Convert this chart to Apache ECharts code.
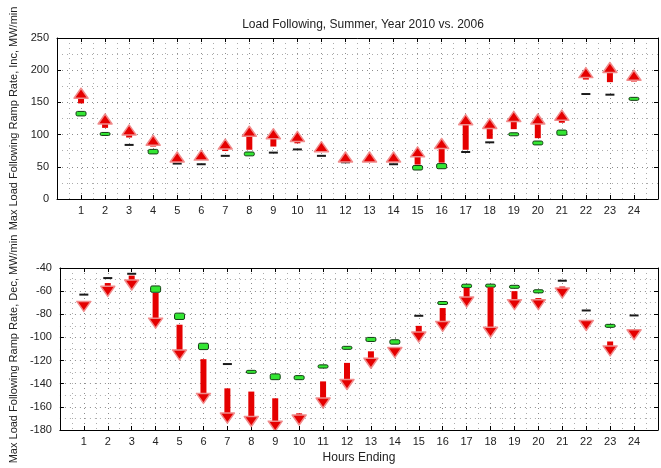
<!DOCTYPE html>
<html>
<head>
<meta charset="utf-8">
<script src="https://cdn.jsdelivr.net/npm/echarts@6/dist/echarts.min.js"></script>
<style>
  html, body { margin: 0; padding: 0; background: #fff; }
  #chart { width: 661px; height: 468px; }
</style>
</head>
<body>
<div id="chart"></div>
<script>
// Hour-ending categories
const hours = [1, 2, 3, 4, 5, 6, 7, 8, 9, 10, 11, 12, 13, 14, 15, 16, 17, 18, 19, 20, 21, 22, 23, 24];

// Increase ramp rate (MW/min): 2006 marker range
const incLow2006  = [129, 99.5, 84, 70, 55, 54, 67, 67, 72, 77, 67, 57, 59, 54, 45, 47, 73, 88, 99, 84, 99, 163, 162, 154];
const incHigh2006 = [136, 102.5, 84, 77, 55, 54, 67, 73, 72, 77, 67, 57, 59, 54, 52, 55, 73, 88, 102, 90, 107, 163, 162, 157];
// Increase ramp rate: 2010 change arrows (tail -> tip)
const incFrom2010 = [150, 112, 97, 83, 60, 61, 76, 78, 83, 88, 78, 61, 63, 59, 55, 58, 78, 95, 110, 96, 120, 187, 183, 184];
const incTo2010   = [172, 132, 115, 99, 73, 76, 93, 113, 109, 105, 89, 73, 73, 73, 81, 94, 131, 125, 136, 132, 138, 204, 212, 200];

// Decrease ramp rate (MW/min): 2006 marker range
const decLow2006  = [-63, -48.7, -45, -61, -84.5, -110.5, -123, -131, -136.5, -136.5, -126.5, -110, -103.5, -105.8, -81.3, -71, -57, -56.5, -57, -61.5, -51, -76.7, -90.5, -81];
const decHigh2006 = [-63, -48.7, -45, -55.5, -79, -105, -123, -128.5, -131.5, -133, -123.7, -108, -100, -102, -81.3, -69.5, -54, -54, -55.5, -58.8, -51, -76.7, -89.5, -81];
// Decrease ramp rate: 2010 change arrows (tail -> tip)
const decFrom2010 = [-70, -53, -46.6, -61.6, -89, -118.8, -144, -146.8, -152.6, -165.6, -138, -122, -112, -112, -90, -74.6, -57.3, -56.7, -60, -66, -56, -88, -103.5, -94.8];
const decTo2010   = [-77.5, -64.5, -59, -92, -119.4, -157, -174, -177, -181, -175.7, -161, -145, -126.6, -117.4, -104, -94.8, -73.8, -99.8, -76, -76, -66, -94, -116, -102];

const FONT = 'Liberation Sans, Arial, sans-serif';
const TXT = '#222';
const MAJOR_GRID = { show: true, lineStyle: { color: '#8c8c8c', type: [1, 4], width: 1 } };
const MINOR_GRID = { show: true, lineStyle: { color: '#ababab', type: [1, 4], width: 1 } };

function renderArrow(params, api) {
  const x = api.value(0), a = api.value(1), b = api.value(2);
  const p0 = api.coord([x, a]);
  const p1 = api.coord([x, b]);
  const dir = p1[1] < p0[1] ? -1 : 1;
  const headLen = 10, headHalf = 7, shaftHalf = 3;
  const baseY = p1[1] - dir * headLen;
  const children = [];
  if ((baseY - p0[1]) * dir > 0) {
    children.push({
      type: 'rect',
      shape: { x: p0[0] - shaftHalf, y: Math.min(p0[1], baseY), width: shaftHalf * 2, height: Math.abs(baseY - p0[1]) + 1 },
      style: { fill: '#e50000' }
    });
  }
  children.push({
    type: 'polygon',
    shape: { points: [[p1[0], p1[1]], [p1[0] - headHalf, baseY], [p1[0] + headHalf, baseY]] },
    style: { fill: '#e50000', stroke: '#f08a8a', lineWidth: 1.5, lineJoin: 'round' }
  });
  return { type: 'group', children: children };
}

function renderMarker(params, api) {
  const x = api.value(0), lo = api.value(1), hi = api.value(2);
  const pl = api.coord([x, lo]);
  const ph = api.coord([x, hi]);
  if (hi === lo) {
    return {
      type: 'rect',
      shape: { x: pl[0] - 4.5, y: pl[1] - 1, width: 9, height: 2 },
      style: { fill: '#1a1a1a' }
    };
  }
  const h = Math.max(Math.abs(pl[1] - ph[1]), 3);
  const yc = (pl[1] + ph[1]) / 2;
  return {
    type: 'rect',
    shape: { x: pl[0] - 5, y: yc - h / 2, width: 10, height: h, r: 1.5 },
    style: { fill: '#33e633', stroke: '#143d14', lineWidth: 1 }
  };
}

function xAxisPair(gridIndex, showName) {
  const base = {
    type: 'value', gridIndex: gridIndex, min: 0, max: 25, interval: 1,
    axisLine: { show: true, onZero: false, lineStyle: { color: '#000', width: 1 } },
    axisTick: { show: true, inside: true, length: 4, lineStyle: { color: '#000' } },
    minorTick: { show: false, splitNumber: 2 },
    splitLine: { show: false }
  };
  return [
    Object.assign({}, base, {
      position: 'bottom',
      axisLabel: {
        show: true, color: TXT, fontFamily: FONT, fontSize: 11, margin: 6,
        formatter: v => (hours.indexOf(v) >= 0 ? String(v) : '')
      },
      splitLine: MAJOR_GRID,
      minorSplitLine: MINOR_GRID,
      name: showName ? 'Hours Ending' : '',
      nameLocation: 'middle', nameGap: 22,
      nameTextStyle: { color: TXT, fontFamily: FONT, fontSize: 12 }
    }),
    Object.assign({}, base, { position: 'top', axisLabel: { show: false } })
  ];
}

function yAxisPair(gridIndex, min, max, interval, name) {
  const base = {
    type: 'value', gridIndex: gridIndex, min: min, max: max, interval: interval,
    axisLine: { show: true, onZero: false, lineStyle: { color: '#000', width: 1 } },
    axisTick: { show: true, inside: true, length: 4, lineStyle: { color: '#000' } },
    minorTick: { show: false, splitNumber: 2 },
    splitLine: { show: false }
  };
  return [
    Object.assign({}, base, {
      position: 'left',
      axisLabel: { show: true, color: TXT, fontFamily: FONT, fontSize: 11, margin: 8 },
      splitLine: MAJOR_GRID,
      minorSplitLine: MINOR_GRID,
      name: name, nameLocation: 'middle', nameGap: 36,
      nameTextStyle: { color: TXT, fontFamily: FONT, fontSize: 11 }
    }),
    Object.assign({}, base, { position: 'right', axisLabel: { show: false } })
  ];
}

const incMarkers = hours.map((h, i) => [h, incLow2006[i], incHigh2006[i]]);
const incArrows  = hours.map((h, i) => [h, incFrom2010[i], incTo2010[i]]);
const decMarkers = hours.map((h, i) => [h, decLow2006[i], decHigh2006[i]]);
const decArrows  = hours.map((h, i) => [h, decFrom2010[i], decTo2010[i]]);

const chart = echarts.init(document.getElementById('chart'), null, { renderer: 'canvas' });
chart.setOption({
  animation: false,
  backgroundColor: '#fff',
  title: {
    text: 'Load Following, Summer, Year 2010 vs. 2006',
    left: 358, top: 14, textAlign: 'center',
    textStyle: { color: TXT, fontFamily: FONT, fontSize: 12, fontWeight: 'normal' }
  },
  grid: [
    { left: 57, right: 1, top: 38, height: 161 },
    { left: 57, right: 1, top: 268, height: 162 }
  ],
  xAxis: [].concat(xAxisPair(0, false), xAxisPair(1, true)),
  yAxis: [].concat(
    yAxisPair(0, 0, 250, 50, 'Max Load Following Ramp Rate, Inc, MW/min'),
    yAxisPair(1, -180, -40, 20, 'Max Load Following Ramp Rate, Dec, MW/min')
  ),
  series: [
    { type: 'custom', xAxisIndex: 0, yAxisIndex: 0, renderItem: renderMarker, data: incMarkers, encode: { x: 0, y: [1, 2] }, z: 3 },
    { type: 'custom', xAxisIndex: 0, yAxisIndex: 0, renderItem: renderArrow, data: incArrows, encode: { x: 0, y: [1, 2] }, z: 4, clip: true },
    { type: 'custom', xAxisIndex: 2, yAxisIndex: 2, renderItem: renderMarker, data: decMarkers, encode: { x: 0, y: [1, 2] }, z: 3 },
    { type: 'custom', xAxisIndex: 2, yAxisIndex: 2, renderItem: renderArrow, data: decArrows, encode: { x: 0, y: [1, 2] }, z: 4, clip: true }
  ]
});
</script>
</body>
</html>
